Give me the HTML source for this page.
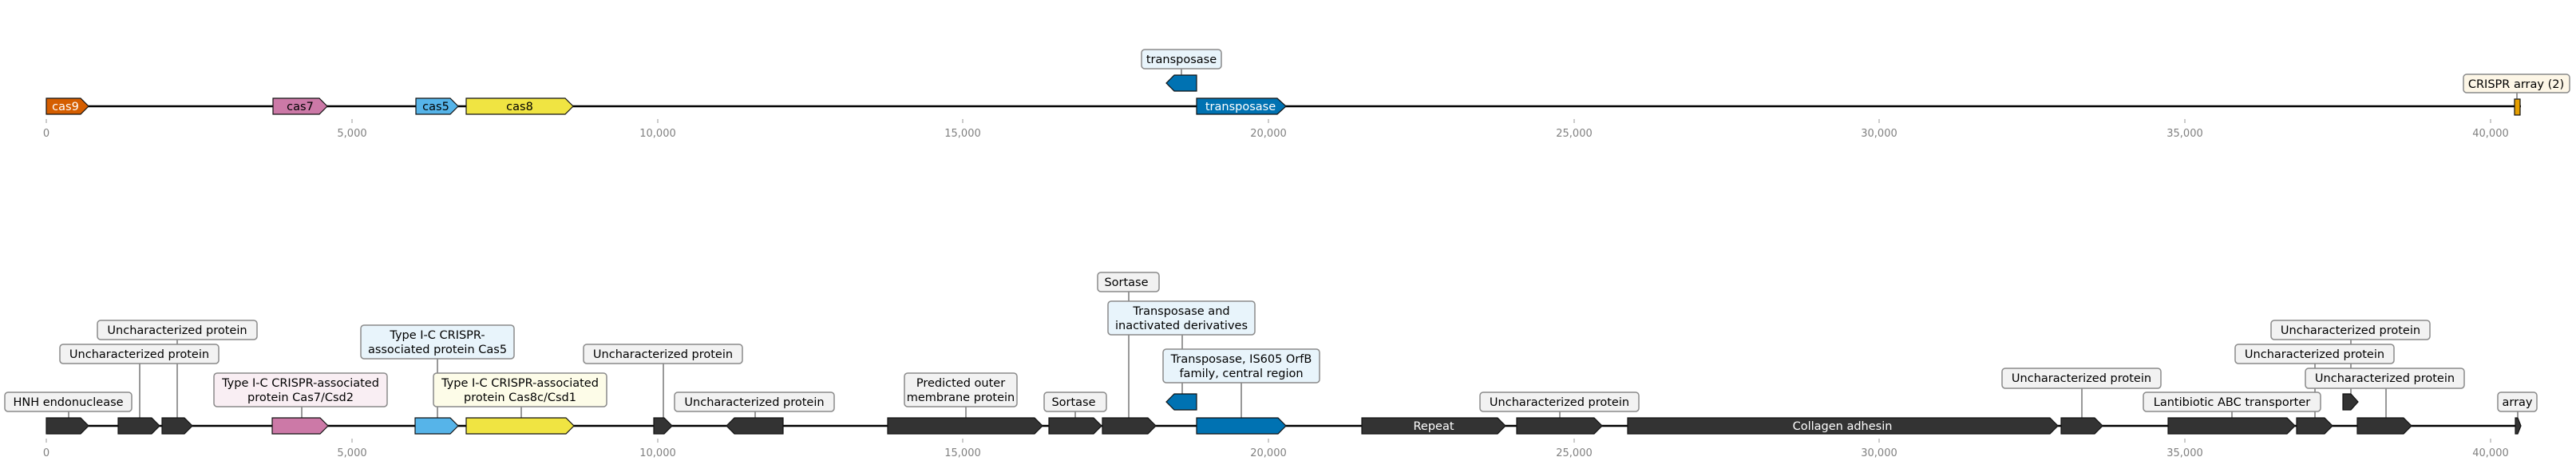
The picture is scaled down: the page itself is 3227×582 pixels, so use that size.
<!DOCTYPE html>
<html><head><meta charset="utf-8"><style>
html,body{margin:0;padding:0;background:#fff;}
svg{display:block;}
text{font-family:"DejaVu Sans","Liberation Sans",sans-serif;}
.ax{fill:#808080;font-size:13px;text-anchor:middle;}
.lb{font-size:14.5px;fill:#000;text-anchor:middle;}
.gt{font-size:14.5px;text-anchor:middle;}
.bx{stroke:#8a8a8a;stroke-width:1.5;}
.cn{stroke:#333;stroke-width:1;}
.g{stroke:#111;stroke-width:1.2;}
</style></head><body>
<svg width="3227" height="582" viewBox="0 0 3227 582" xmlns="http://www.w3.org/2000/svg">
<line x1="58" y1="133" x2="3158" y2="133" stroke="#000" stroke-width="2.5"/>
<g stroke="#999" stroke-width="1">
<line x1="58" y1="149" x2="58" y2="154"/><line x1="441" y1="149" x2="441" y2="154"/><line x1="824" y1="149" x2="824" y2="154"/><line x1="1206" y1="149" x2="1206" y2="154"/><line x1="1589" y1="149" x2="1589" y2="154"/><line x1="1972" y1="149" x2="1972" y2="154"/><line x1="2354" y1="149" x2="2354" y2="154"/><line x1="2737" y1="149" x2="2737" y2="154"/><line x1="3120" y1="149" x2="3120" y2="154"/>
</g>
<g class="ax">
<text x="58" y="171">0</text><text x="441" y="171">5,000</text><text x="824" y="171">10,000</text><text x="1206" y="171">15,000</text><text x="1589" y="171">20,000</text><text x="1972" y="171">25,000</text><text x="2354" y="171">30,000</text><text x="2737" y="171">35,000</text><text x="3120" y="171">40,000</text>
</g>
<polygon class="g" fill="#d55e00" points="58,123 101,123 111,133 101,143 58,143"/>
<text class="gt" x="82" y="138" fill="#fff">cas9</text>
<polygon class="g" fill="#cc79a7" points="342,123 400,123 410,133 400,143 342,143"/>
<text class="gt" x="376" y="138" fill="#000">cas7</text>
<polygon class="g" fill="#56b4e9" points="521,123 564,123 574,133 564,143 521,143"/>
<text class="gt" x="546" y="138" fill="#000">cas5</text>
<polygon class="g" fill="#f0e442" points="584,123 708,123 718,133 708,143 584,143"/>
<text class="gt" x="651" y="138" fill="#000">cas8</text>
<polygon class="g" fill="#0072b2" points="1499,94 1499,114 1471,114 1461,104 1471,94"/>
<line class="cn" x1="1480" y1="86" x2="1480" y2="94"/>
<rect class="bx" x="1430" y="62" width="100" height="24" rx="4" fill="#e8f4fb"/>
<text class="lb" x="1480" y="79">transposase</text>
<polygon class="g" fill="#0072b2" points="1499,123 1600,123 1611,133 1600,143 1499,143"/>
<text class="gt" x="1554" y="138" fill="#fff">transposase</text>
<rect class="g" x="3150" y="124" width="7" height="20" fill="#e69f00"/>
<line class="cn" x1="3153" y1="116" x2="3153" y2="124"/>
<rect class="bx" x="3086" y="93" width="133" height="23" rx="4" fill="#fdf6e6"/>
<text class="lb" x="3152" y="110">CRISPR array (2)</text>

<line x1="58" y1="533" x2="3158" y2="533" stroke="#000" stroke-width="2.5"/>
<g stroke="#999" stroke-width="1">
<line x1="58" y1="549" x2="58" y2="554"/><line x1="441" y1="549" x2="441" y2="554"/><line x1="824" y1="549" x2="824" y2="554"/><line x1="1206" y1="549" x2="1206" y2="554"/><line x1="1589" y1="549" x2="1589" y2="554"/><line x1="1972" y1="549" x2="1972" y2="554"/><line x1="2354" y1="549" x2="2354" y2="554"/><line x1="2737" y1="549" x2="2737" y2="554"/><line x1="3120" y1="549" x2="3120" y2="554"/>
</g>
<g class="ax">
<text x="58" y="571">0</text><text x="441" y="571">5,000</text><text x="824" y="571">10,000</text><text x="1206" y="571">15,000</text><text x="1589" y="571">20,000</text><text x="1972" y="571">25,000</text><text x="2354" y="571">30,000</text><text x="2737" y="571">35,000</text><text x="3120" y="571">40,000</text>
</g>

<g class="cn">
<line x1="86" y1="515" x2="86" y2="523"/>
<line x1="175" y1="455" x2="175" y2="523"/>
<line x1="222" y1="425" x2="222" y2="523"/>
<line x1="378" y1="509" x2="378" y2="523"/>
<line x1="548" y1="449" x2="548" y2="523"/>
<line x1="653" y1="509" x2="653" y2="523"/>
<line x1="831" y1="455" x2="831" y2="523"/>
<line x1="946" y1="515" x2="946" y2="523"/>
<line x1="1210" y1="509" x2="1210" y2="523"/>
<line x1="1347" y1="515" x2="1347" y2="523"/>
<line x1="1414" y1="365" x2="1414" y2="523"/>
<line x1="1481" y1="419" x2="1481" y2="493"/>
<line x1="1555" y1="479" x2="1555" y2="523"/>
<line x1="1954" y1="515" x2="1954" y2="523"/>
<line x1="2608" y1="486" x2="2608" y2="523"/>
<line x1="2796" y1="515" x2="2796" y2="523"/>
<line x1="2900" y1="455" x2="2900" y2="523"/>
<line x1="2945" y1="425" x2="2945" y2="493"/>
<line x1="2989" y1="486" x2="2989" y2="523"/>
<line x1="3154" y1="515" x2="3154" y2="523"/>
</g>

<g class="g" fill="#333">
<polygon points="58,523 101,523 111,533 101,543 58,543"/>
<polygon points="148,523 190,523 200,533 190,543 148,543"/>
<polygon points="203,523 231,523 241,533 231,543 203,543"/>
<polygon points="819,523 832,523 842,533 832,543 819,543"/>
<polygon points="981,523 981,543 920,543 910,533 920,523"/>
<polygon points="1112,523 1296,523 1306,533 1296,543 1112,543"/>
<polygon points="1314,523 1370,523 1380,533 1370,543 1314,543"/>
<polygon points="1381,523 1438,523 1448,533 1438,543 1381,543"/>
<polygon points="1706,523 1876,523 1886,533 1876,543 1706,543"/>
<polygon points="1900,523 1997,523 2007,533 1997,543 1900,543"/>
<polygon points="2039,523 2568,523 2578,533 2568,543 2039,543"/>
<polygon points="2582,523 2624,523 2634,533 2624,543 2582,543"/>
<polygon points="2716,523 2865,523 2875,533 2865,543 2716,543"/>
<polygon points="2877,523 2912,523 2922,533 2912,543 2877,543"/>
<polygon points="2935,493 2945,493 2954,503 2945,513 2935,513"/>
<polygon points="2953,523 3011,523 3021,533 3011,543 2953,543"/>
<polygon points="3151,523 3154,523 3158,533 3154,543 3151,543"/>
</g>
<polygon class="g" fill="#cc79a7" points="341,523 401,523 411,533 401,543 341,543"/>
<polygon class="g" fill="#56b4e9" points="520,523 564,523 574,533 564,543 520,543"/>
<polygon class="g" fill="#f0e442" points="584,523 709,523 719,533 709,543 584,543"/>
<polygon class="g" fill="#0072b2" points="1499,493 1499,513 1471,513 1461,503 1471,493"/>
<polygon class="g" fill="#0072b2" points="1499,523 1601,523 1611,533 1601,543 1499,543"/>
<text class="gt" x="1796" y="538" fill="#fff">Repeat</text>
<text class="gt" x="2308" y="538" fill="#fff">Collagen adhesin</text>

<g>
<rect class="bx" x="6" y="491" width="159" height="24" rx="4" fill="#f2f2f2"/>
<text class="lb" x="85.5" y="508">HNH endonuclease</text>
<rect class="bx" x="75" y="431" width="199" height="24" rx="4" fill="#f2f2f2"/>
<text class="lb" x="174.5" y="448">Uncharacterized protein</text>
<rect class="bx" x="122" y="401" width="200" height="24" rx="4" fill="#f2f2f2"/>
<text class="lb" x="222" y="418">Uncharacterized protein</text>
<rect class="bx" x="268" y="467" width="217" height="42" rx="4" fill="#f9eef3"/>
<text class="lb" x="376.5" y="484">Type I-C CRISPR-associated</text>
<text class="lb" x="376.5" y="502">protein Cas7/Csd2</text>
<rect class="bx" x="452" y="407" width="192" height="42" rx="4" fill="#e8f4fb"/>
<text class="lb" x="548" y="424">Type I-C CRISPR-</text>
<text class="lb" x="548" y="442">associated protein Cas5</text>
<rect class="bx" x="543" y="467" width="217" height="42" rx="4" fill="#fdfce8"/>
<text class="lb" x="651.5" y="484">Type I-C CRISPR-associated</text>
<text class="lb" x="651.5" y="502">protein Cas8c/Csd1</text>
<rect class="bx" x="731" y="431" width="199" height="24" rx="4" fill="#f2f2f2"/>
<text class="lb" x="830.5" y="448">Uncharacterized protein</text>
<rect class="bx" x="845" y="491" width="200" height="24" rx="4" fill="#f2f2f2"/>
<text class="lb" x="945" y="508">Uncharacterized protein</text>
<rect class="bx" x="1133" y="467" width="141" height="42" rx="4" fill="#f2f2f2"/>
<text class="lb" x="1203.5" y="484">Predicted outer</text>
<text class="lb" x="1203.5" y="502">membrane protein</text>
<rect class="bx" x="1308" y="491" width="78" height="24" rx="4" fill="#f2f2f2"/>
<text class="lb" x="1345" y="508">Sortase</text>
<rect class="bx" x="1375" y="341" width="77" height="24" rx="4" fill="#f2f2f2"/>
<text class="lb" x="1411" y="358">Sortase</text>
<rect class="bx" x="1388" y="377" width="184" height="42" rx="4" fill="#e8f4fb"/>
<text class="lb" x="1480" y="394">Transposase and</text>
<text class="lb" x="1480" y="412">inactivated derivatives</text>
<rect class="bx" x="1457" y="437" width="196" height="42" rx="4" fill="#e8f4fb"/>
<text class="lb" x="1555" y="454">Transposase, IS605 OrfB</text>
<text class="lb" x="1555" y="472">family, central region</text>
<rect class="bx" x="1854" y="491" width="199" height="24" rx="4" fill="#f2f2f2"/>
<text class="lb" x="1953.5" y="508">Uncharacterized protein</text>
<rect class="bx" x="2508" y="461" width="199" height="25" rx="4" fill="#f2f2f2"/>
<text class="lb" x="2607.5" y="478">Uncharacterized protein</text>
<rect class="bx" x="2685" y="491" width="222" height="24" rx="4" fill="#f2f2f2"/>
<text class="lb" x="2796" y="508">Lantibiotic ABC transporter</text>
<rect class="bx" x="2800" y="431" width="199" height="24" rx="4" fill="#f2f2f2"/>
<text class="lb" x="2899.5" y="448">Uncharacterized protein</text>
<rect class="bx" x="2845" y="401" width="199" height="24" rx="4" fill="#f2f2f2"/>
<text class="lb" x="2944.5" y="418">Uncharacterized protein</text>
<rect class="bx" x="2888" y="461" width="199" height="25" rx="4" fill="#f2f2f2"/>
<text class="lb" x="2987.5" y="478">Uncharacterized protein</text>
<rect class="bx" x="3129" y="491" width="49" height="24" rx="4" fill="#f2f2f2"/>
<text class="lb" x="3153.5" y="508">array</text>
</g>
</svg>
</body></html>
